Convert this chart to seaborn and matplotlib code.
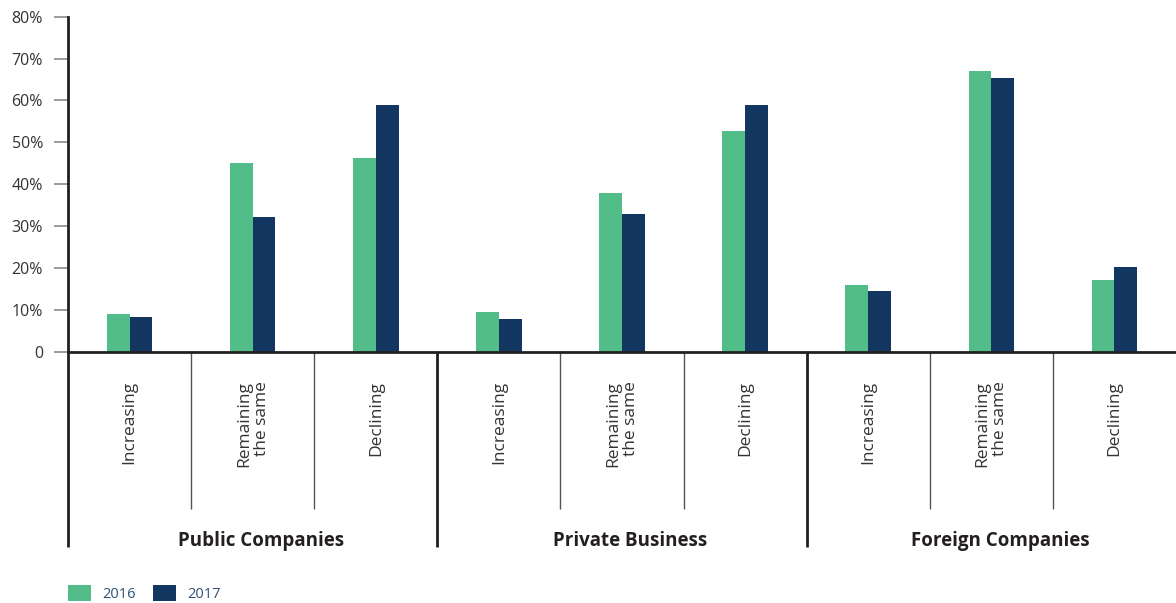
import matplotlib
matplotlib.use("Agg")
import matplotlib.pyplot as plt
import matplotlib.transforms as mtransforms
from matplotlib.patches import Patch
import seaborn as sns
import pandas as pd

# ---- data -------------------------------------------------------------
groups = ["Public Companies", "Private Business", "Foreign Companies"]
trends = ["Increasing", "Remaining\nthe same", "Declining"]
years = ["2016", "2017"]
values_2016 = [8.9, 45.0, 46.3, 9.6, 37.8, 52.7, 15.9, 67.1, 17.1]
values_2017 = [8.2, 32.2, 59.0, 7.7, 32.8, 59.0, 14.6, 65.3, 20.2]
y_ticks = [0, 10, 20, 30, 40, 50, 60, 70, 80]
y_tick_labels = ["0", "10%", "20%", "30%", "40%", "50%", "60%", "70%", "80%"]

GREEN = "#52bd89"
NAVY = "#12365f"
DARK = "#231f20"
GREY = "#8a8a8a"
LEGEND_TXT = "#2d5074"

# ---- long table ---------------------------------------------------------
keys = [f"{g}|{t}" for g in groups for t in trends]
rows = []
for k, v in zip(keys, values_2016):
    rows.append({"slot": k, "year": years[0], "share": v})
for k, v in zip(keys, values_2017):
    rows.append({"slot": k, "year": years[1], "share": v})
df = pd.DataFrame(rows)

sns.set_theme(style="white")
plt.rcParams["font.family"] = ["Open Sans", "DejaVu Sans"]

fig = plt.figure(figsize=(11.76, 6.03), dpi=100)
W, H = 1176, 603
ax = fig.add_axes([68 / W, 1 - 351.7 / H, 1 - 68 / W, (351.7 - 16.7) / H])

sns.barplot(
    data=df, x="slot", y="share", hue="year", order=keys, hue_order=years,
    palette=[GREEN, NAVY], width=0.37, linewidth=0, saturation=1,
    errorbar=None, ax=ax, legend=False,
)

ax.set_xlim(-0.5, 8.5)
ax.set_ylim(0, 80)
ax.set_xlabel("")
ax.set_ylabel("")

# y axis
ax.set_yticks(y_ticks)
ax.set_yticklabels(y_tick_labels, fontsize=11.5, color="#333333")
ax.tick_params(axis="y", length=10, width=1.2, color=GREY, pad=8, left=True)

# x axis: rotated category labels
ax.set_xticks(range(len(keys)))
ax.set_xticklabels([t for g in groups for t in trends], rotation=90,
                   fontsize=12.5, color="#333333")
for lbl in ax.get_xticklabels():
    lbl.set_multialignment("right")
    lbl.set_verticalalignment("top")
    lbl.set_linespacing(1.15)
ax.tick_params(axis="x", length=0, pad=21)

for side in ["top", "right"]:
    ax.spines[side].set_visible(False)
ax.spines["bottom"].set_color(DARK)
ax.spines["bottom"].set_linewidth(2)
ax.spines["left"].set_color(DARK)
ax.spines["left"].set_linewidth(2)

# separators below the axis
trans = mtransforms.blended_transform_factory(ax.transData, ax.transAxes)
short_end = -(509 - 351.7) / 335
long_end = -(547 - 351.7) / 335
for x in [0.5, 1.5, 3.5, 4.5, 6.5, 7.5]:
    ax.plot([x, x], [0, short_end], transform=trans, color="#555555",
            lw=1.0, clip_on=False, solid_capstyle="butt")
for x in [-0.5, 2.5, 5.5]:
    ax.plot([x, x], [0, long_end], transform=trans, color=DARK,
            lw=2, clip_on=False, solid_capstyle="butt")

# group titles
label_y = -(541 - 351.7) / 335
for i, g in enumerate(groups):
    ax.text(3 * i + 1 + 0.07, label_y, g, transform=trans, ha="center",
            va="center", fontsize=13.5, fontweight="bold", color=DARK)

# legend
handles = [Patch(facecolor=GREEN, edgecolor="none", label=years[0]),
           Patch(facecolor=NAVY, edgecolor="none", label=years[1])]
fig.legend(handles=handles, loc="center left",
           bbox_to_anchor=(68 / W, 1 - 593.5 / H), ncol=2, frameon=False,
           fontsize=10.5, handlelength=1.55, handleheight=1.3,
           handletextpad=0.8, columnspacing=1.2, borderpad=0,
           borderaxespad=0, labelcolor=LEGEND_TXT)

fig.savefig("out.png", dpi=100)
